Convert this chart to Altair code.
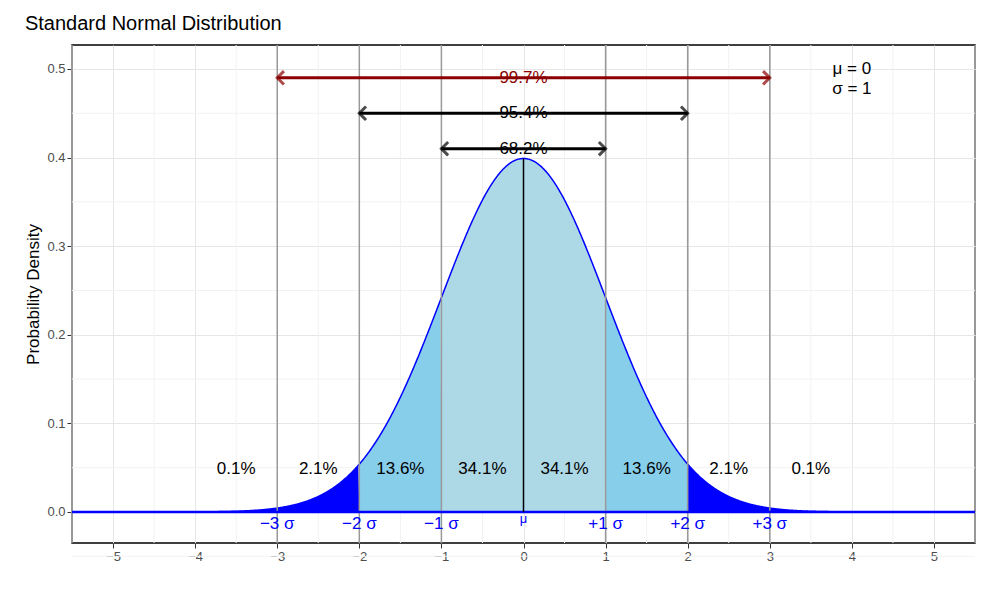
import altair as alt
import pandas as pd

# arrows: (y, x0, x1, label, colour)
arrow_y = [0.49, 0.45, 0.41]
arrow_x0 = [-3, -2, -1]
arrow_x1 = [3, 2, 1]
arrow_labels = ["99.7%", "95.4%", "68.2%"]
arrow_colors = ["#8b0000", "black", "black"]

pct_x = [-3.5, -2.5, -1.5, -0.5, 0.5, 1.5, 2.5, 3.5]
pct_labels = ["0.1%", "2.1%", "13.6%", "34.1%", "34.1%", "13.6%", "2.1%", "0.1%"]

sigma_x = [-3, -2, -1, 1, 2, 3]
sigma_labels = ["\u22123 \u03c3", "\u22122 \u03c3", "\u22121 \u03c3", "+1 \u03c3", "+2 \u03c3", "+3 \u03c3"]

grey_lines = [-3, -2, -1, 1, 2, 3]
minor_x = [-5.5, -4.5, -3.5, -2.5, -1.5, -0.5, 0.5, 1.5, 2.5, 3.5, 4.5, 5.5]
minor_y = [-0.05, 0.05, 0.15, 0.25, 0.35, 0.45]

X = alt.Scale(domain=[-5.5, 5.5], nice=False, zero=False)
Y = alt.Scale(domain=[-0.035, 0.527], nice=False, zero=False)

xax = alt.X("x:Q", scale=X, title=None,
            axis=alt.Axis(values=list(range(-5, 6)), format="d", gridColor="#e6e6e6",
                          labelColor="#4d4d4d", labelFontSize=13, tickColor="#333",
                          domain=False))
yax = alt.Y("y:Q", scale=Y, title="Probability Density",
            axis=alt.Axis(values=[0, 0.1, 0.2, 0.3, 0.4, 0.5], format=".1f",
                          gridColor="#e6e6e6", labelColor="#4d4d4d", labelFontSize=13,
                          titleFontSize=17, titleFontWeight="normal", tickColor="#333",
                          domain=False))

minor_v = alt.Chart(pd.DataFrame({"x": minor_x})).mark_rule(color="#f2f2f2").encode(x=xax)
minor_h = alt.Chart(pd.DataFrame({"y": minor_y})).mark_rule(color="#f2f2f2").encode(y=yax)

curve = (
    alt.Chart(alt.sequence(-5.5, 5.501, 0.01, as_="x"))
    .transform_calculate(y="densityNormal(datum.x, 0, 1)")
)
band_expr = ("datum.x < -2 ? 'a' : datum.x < -1 ? 'b' : datum.x < 1 ? 'c' : "
             "datum.x < 2 ? 'd' : 'e'")
areas = curve.transform_calculate(seg=band_expr).transform_calculate(
    band="datum.seg == 'a' || datum.seg == 'e' ? 'o' : datum.seg == 'c' ? 'i' : 'm'"
).mark_area().encode(
    x=xax, y=yax, detail="seg:N",
    color=alt.Color("band:N", legend=None,
                    scale=alt.Scale(domain=["o", "m", "i"],
                                    range=["blue", "skyblue", "lightblue"])),
)
line = curve.mark_line(color="blue", strokeWidth=1.5).encode(x=xax, y=yax)

greys = alt.Chart(pd.DataFrame({"x": grey_lines})).mark_rule(color="#999", strokeWidth=1.5).encode(x=xax)
base0 = alt.Chart(pd.DataFrame({"y": [0]})).mark_rule(color="blue", strokeWidth=2.5).encode(y=yax)
mid = alt.Chart(pd.DataFrame({"x": [0], "y": [0], "y2": [0.3989]})).mark_rule(
    color="black", strokeWidth=1.5).encode(x=xax, y=yax, y2="y2:Q")

arr = pd.DataFrame({"x": arrow_x0, "x2": arrow_x1, "y": arrow_y, "label": arrow_labels,
                    "c": arrow_colors, "xm": [0, 0, 0]})
cscale = alt.Color("c:N", scale=None, legend=None)
shafts = alt.Chart(arr).mark_rule(strokeWidth=3).encode(x=xax, x2="x2:Q", y=yax, color=cscale)
lefts = alt.Chart(arr).mark_point(shape="M1,-1L0,0L1,1", filled=False, size=180,
                                  strokeWidth=3).encode(x=xax, y=yax, color=cscale)
rights = alt.Chart(arr).mark_point(shape="M-1,-1L0,0L-1,1", filled=False, size=180,
                                   strokeWidth=3).encode(
    x=alt.X("x2:Q", scale=X), y=yax, color=cscale)
arr_text = alt.Chart(arr).mark_text(fontSize=17).encode(
    x=alt.X("xm:Q", scale=X), y=yax, text="label:N", color=cscale)

pct = alt.Chart(pd.DataFrame({"x": pct_x, "y": [0.049] * 8, "t": pct_labels})).mark_text(
    fontSize=17).encode(x=xax, y=yax, text="t:N")
sig = alt.Chart(pd.DataFrame({"x": sigma_x, "y": [-0.013] * 6, "t": sigma_labels})).mark_text(
    fontSize=17, color="blue").encode(x=xax, y=yax, text="t:N")
mu = alt.Chart(pd.DataFrame({"x": [0], "y": [-0.008], "t": ["\u03bc"]})).mark_text(
    fontSize=13, color="blue").encode(x=xax, y=yax, text="t:N")
params = alt.Chart(pd.DataFrame({"x": [4.0, 4.0], "y": [0.500, 0.477],
                                 "t": ["\u03bc = 0", "\u03c3 = 1"]})).mark_text(
    fontSize=17).encode(x=xax, y=yax, text="t:N")

chart = alt.layer(
    minor_v, minor_h, areas, line, greys, base0, mid, shafts, lefts, rights, arr_text,
    pct, sig, mu, params,
).properties(
    width=903, height=498,
    autosize=alt.AutoSizeParams(type="none"),
    padding={"left": 64, "top": 37, "right": 2, "bottom": 50},
    title=alt.TitleParams("Standard Normal Distribution", anchor="start", fontSize=20,
                          fontWeight="normal", offset=10),
).configure(font="Liberation Sans").configure_view(stroke="black", strokeWidth=1.5)

chart.save("out.html", embed_options={"renderer": "svg", "actions": False})
